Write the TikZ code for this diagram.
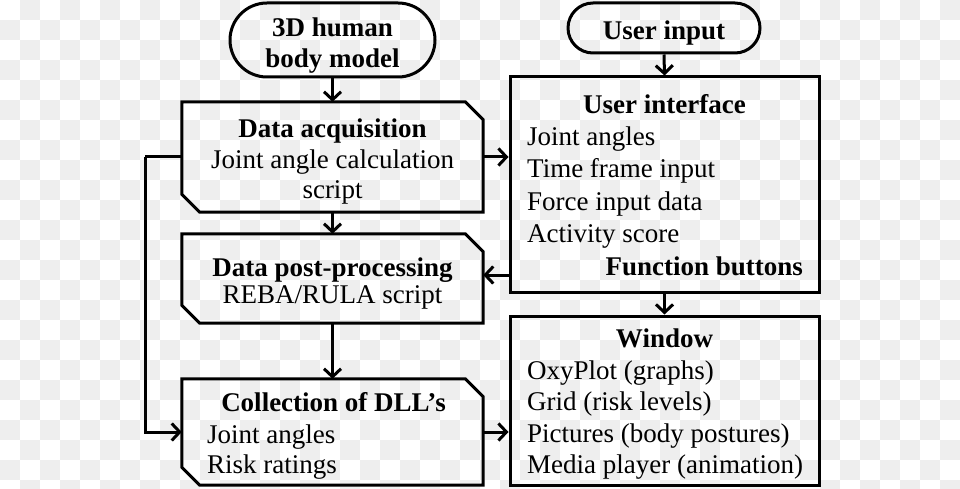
\documentclass[tikz,border=0pt]{standalone}
\usepackage{fontspec}
\setmainfont{Liberation Serif}
\usetikzlibrary{arrows.meta}
\definecolor{checker}{HTML}{EEEEEE}
\begin{document}
\begin{tikzpicture}[x=1pt,y=-1pt,
  outline/.style={line width=3pt, line join=miter},
  txt/.style={font=\fontsize{27}{31}\selectfont, inner sep=0pt, yshift=-6pt},
  ttl/.style={font=\fontsize{27}{31}\selectfont\bfseries, inner sep=0pt, yshift=-6pt},
  conn/.style={line width=3pt, -{Straight Barb[length=8pt,width=17pt,line width=3pt]}},
  plain/.style={line width=3pt}]
\useasboundingbox (0,0) rectangle (960,489);
% checkerboard background
\fill[white] (0,0) rectangle (960,489);
\foreach \j in {0,...,24}{
  \foreach \i in {0,...,47}{
    \pgfmathtruncatemacro\sq{mod(\i+\j,2)}
    \ifnum\sq=1 \fill[checker] (\i*20,\j*20) rectangle ++(20,20);\fi
  }
}
% terminals
\node[draw, outline, rounded corners=37pt, minimum width=205pt, minimum height=74pt] (model) at (332.5,40) {};
\node[ttl, anchor=mid] (model1) at (332.5,28) {3D human};
\node[ttl, anchor=mid] (model2) at (332.5,59) {body model};
\node[draw, outline, rounded corners=25pt, minimum width=192pt, minimum height=50pt] (user) at (664,28) {};
\node[ttl, anchor=mid] (user1) at (664,31) {User input};
% left chamfered boxes (invisible frame nodes + outlines)
\node[minimum width=301pt, minimum height=110pt, inner sep=0pt] (da) at (332.5,157) {};
\node[minimum width=301pt, minimum height=89pt, inner sep=0pt] (dpp) at (332.5,278.5) {};
\node[minimum width=301pt, minimum height=106pt, inner sep=0pt] (dll) at (332.5,432) {};
\foreach \b in {da,dpp,dll}{
  \draw[outline] (\b.north west) -- ([xshift=-18pt]\b.north east) -- ([yshift=-18pt]\b.north east)
    -- (\b.south east) -- ([xshift=18pt]\b.south west) -- ([yshift=18pt]\b.south west) -- cycle;
}
\node[ttl, anchor=mid] (da1) at (332.5,129) {Data acquisition};
\node[txt, anchor=mid] (da2) at (332.5,160) {Joint angle calculation};
\node[txt, anchor=mid] (da3) at (332.5,190) {script};
\node[ttl, anchor=mid] (dpp1) at (332.5,268) {Data post-processing};
\node[txt, anchor=mid] (dpp2) at (332.5,295) {REBA/RULA script};
\node[ttl, anchor=mid] (dll1) at (333.5,403) {Collection of DLL’s};
\node[txt, anchor=mid west] (dll2) at (207,435) {Joint angles};
\node[txt, anchor=mid west] (dll3) at (207,465) {Risk ratings};
% right boxes
\node[draw, outline, minimum width=309pt, minimum height=215pt, inner sep=0pt] (ui) at (664.5,184.5) {};
\node[ttl, anchor=mid] (ui1) at (664.5,105) {User interface};
\node[txt, anchor=mid west] (ui2) at (527,137) {Joint angles};
\node[txt, anchor=mid west] (ui3) at (527,169) {Time frame input};
\node[txt, anchor=mid west] (ui4) at (527,202) {Force input data};
\node[txt, anchor=mid west] (ui5) at (527,234) {Activity score};
\node[ttl, anchor=mid east] (ui6) at (803,267) {Function buttons};
\node[draw, outline, minimum width=309pt, minimum height=169pt, inner sep=0pt] (win) at (664.5,400.5) {};
\node[ttl, anchor=mid] (win1) at (664.5,339) {Window};
\node[txt, anchor=mid west] (win2) at (527,371) {OxyPlot (graphs)};
\node[txt, anchor=mid west] (win3) at (527,402) {Grid (risk levels)};
\node[txt, anchor=mid west] (win4) at (527,434) {Pictures (body postures)};
\node[txt, anchor=mid west] (win5) at (527,465) {Media player (animation)};
% connectors
\draw[conn] (model.south) -- (da.north);
\draw[conn] (user.south) -- (ui.north);
\draw[conn] (da.east |- 0,157) -- (ui.west |- 0,157);
\draw[conn] (ui.west |- 0,275) -- (dpp.east |- 0,275);
\draw[conn] (da.south) -- (dpp.north);
\draw[conn] (dpp.south) -- (dll.north);
\coordinate (bus1) at (145,157);
\coordinate (bus2) at (145,432);
\draw[plain] (da.west |- bus1) -- (bus1);
\draw[conn] (bus1) -- (bus2) -- (dll.west |- bus2);
\draw[conn] (dll.east |- bus2) -- (win.west |- bus2);
\draw[conn] (ui.south) -- (win.north);
\end{tikzpicture}
\end{document}
